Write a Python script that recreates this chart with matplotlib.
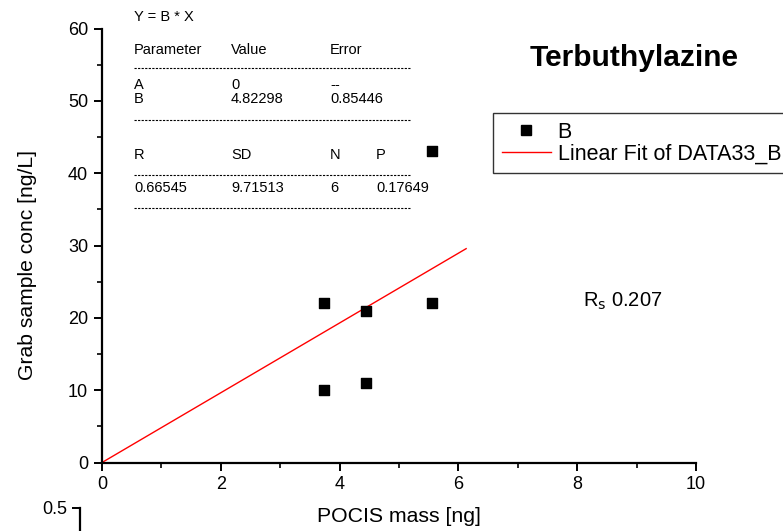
import numpy as np
import matplotlib.pyplot as plt
from matplotlib.lines import Line2D
from matplotlib.ticker import MultipleLocator

plt.rcParams['font.family'] = ['Liberation Sans', 'DejaVu Sans']

# data
pocis_mass = [3.73, 3.73, 4.44, 4.44, 5.56, 5.56]
grab_conc = [22, 10, 21, 11, 22, 43]
slope_b = 4.82298
fit_x_end = 6.13

table_header = ["Parameter", "Value", "Error"]
table_rows = [["A", "0", "--"], ["B", "4.82298", "0.85446"]]
stats_header = ["R", "SD", "N", "P"]
stats_values = ["0.66545", "9.71513", "6", "0.17649"]

fig = plt.figure(figsize=(7.83, 5.31), dpi=100)
ax = fig.add_axes([0.1303, 0.129, 0.7586, 0.8173])

ax.scatter(pocis_mass, grab_conc, marker='s', s=52, color='black', zorder=3)
fx = np.array([0, fit_x_end])
ax.plot(fx, slope_b * fx, color='red', lw=1)

ax.set_xlim(0, 10)
ax.set_ylim(0, 60)
ax.xaxis.set_major_locator(MultipleLocator(2))
ax.xaxis.set_minor_locator(MultipleLocator(1))
ax.yaxis.set_major_locator(MultipleLocator(10))
ax.yaxis.set_minor_locator(MultipleLocator(5))
for s in ['top', 'right']:
    ax.spines[s].set_visible(False)
for s in ['left', 'bottom']:
    ax.spines[s].set_linewidth(1.6)
ax.tick_params(which='major', direction='out', length=6, width=1.4, labelsize=13, pad=4)
ax.tick_params(which='minor', direction='out', length=3.5, width=1.2)
ax.set_xlabel("POCIS mass [ng]", fontsize=15.3, labelpad=10)
ax.set_ylabel("Grab sample conc [ng/L]", fontsize=15.2, labelpad=0)
ax.yaxis.set_label_coords(-0.11, 0.455)

fig.text(634 / 783, 1 - 58 / 531, "Terbuthylazine", fontsize=21.5, fontweight='bold',
         ha='center', va='center')

# R_s annotation
fig.text(583 / 783, 1 - 301 / 531, r"R$_{\rm s}$ 0.207", fontsize=14.5, va='center')

# fit parameter table
def ftxt(x, y, s):
    fig.text(x / 783, 1 - y / 531, s, fontsize=10.5, va='center')

def dash(y):
    fig.add_artist(Line2D([134 / 783, 410 / 783], [1 - y / 531] * 2, color='black',
                          lw=0.8, ls=(0, (2, 1.2))))

ftxt(134, 17, "Y = B * X")
for xp, s in zip([134, 231, 330], table_header):
    ftxt(xp, 50, s)
dash(68)
for yp, row in zip([85, 99], table_rows):
    for xp, s in zip([134, 231, 330], row):
        ftxt(xp, yp, s)
dash(120)
for xp, s in zip([134, 231, 330, 376], stats_header):
    ftxt(xp, 155, s)
dash(175)
for xp, s in zip([134, 231, 330, 376], stats_values):
    ftxt(xp, 188, s)
dash(208)

# legend (runs off the right edge as in the original)
handles = [Line2D([], [], ls='none', marker='s', markersize=7, color='black'),
           Line2D([], [], color='red', lw=1)]
leg = fig.legend(handles, ["B", "Linear Fit of DATA33_B"], loc='upper left',
                 bbox_to_anchor=(493 / 783, 1 - 113 / 531), fontsize=15.5,
                 frameon=True, fancybox=False, borderpad=0.4, handlelength=2.3,
                 handletextpad=0.3, labelspacing=0.05, borderaxespad=0)
leg.get_frame().set_edgecolor('black')
leg.get_frame().set_linewidth(1)

# second panel peeking in at the bottom
ax2 = fig.add_axes([80 / 783, -0.5, 0.5, 0.5 + 23 / 531])
ax2.set_ylim(0, 0.5)
ax2.set_yticks([0.5])
ax2.set_yticklabels(["0.5"])
ax2.set_xticks([])
for s in ['top', 'right', 'bottom']:
    ax2.spines[s].set_visible(False)
ax2.spines['left'].set_linewidth(1.6)
ax2.tick_params(direction='out', length=6, width=1.4, labelsize=13)
ax2.patch.set_alpha(0)

fig.savefig("out.png", dpi=100)
